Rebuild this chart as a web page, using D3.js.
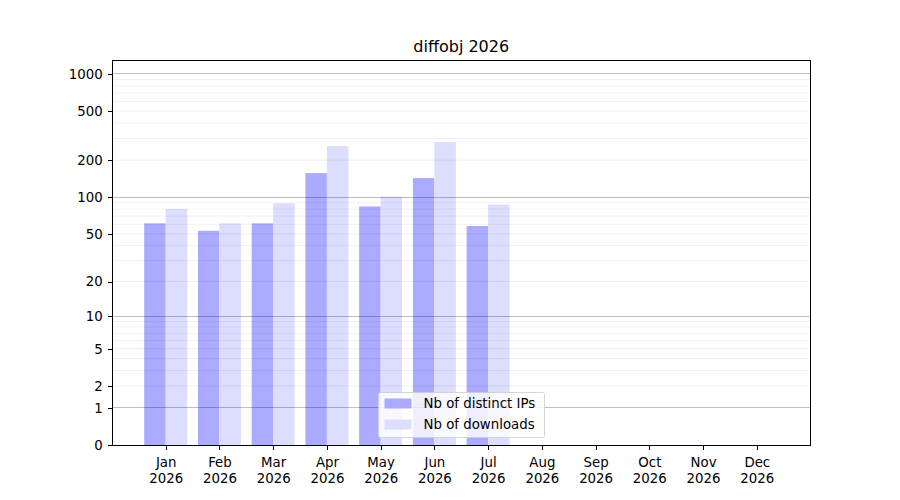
<!DOCTYPE html>
<html>
<head>
<meta charset="utf-8">
<script src="https://cdn.jsdelivr.net/npm/d3@7"></script>
<style>
  body { margin: 0; background: #fff; }
  svg text { font-family: "DejaVu Sans", sans-serif; fill: #000; }
</style>
</head>
<body>
<svg id="chart" width="900" height="500"></svg>
<script>
var months = ["Jan", "Feb", "Mar", "Apr", "May", "Jun", "Jul", "Aug", "Sep", "Oct", "Nov", "Dec"];
var year = "2026";
var distinctIPs = [61, 53, 61, 157, 84, 143, 58, null, null, null, null, null];
var downloads = [80, 61, 89, 261, 101, 281, 87, null, null, null, null, null];
var yTicks = [0, 1, 2, 5, 10, 20, 50, 100, 200, 500, 1000];
var majorGrid = [1, 10, 100, 1000];
var minorGrid = [2, 3, 4, 5, 6, 7, 8, 9, 20, 30, 40, 50, 60, 70, 80, 90, 200, 300, 400, 500, 600, 700, 800, 900];

// plot box (matplotlib default subplot params for a 9x5 figure)
var plotLeft = 112.5, plotRight = 810, plotTop = 60, plotBottom = 445;

var svg = d3.select('#chart');

var x = d3.scaleLinear().domain([-0.99, 11.99]).range([plotLeft, plotRight]);
var y = d3.scaleSymlog().constant(1).domain([0, 1298]).range([plotBottom, plotTop]);
var barW = x(0.4) - x(0);

var bars = svg.append('g');

bars.selectAll('.ip')
    .data(distinctIPs.map((v, i) => ({ v: v, i: i })).filter(d => d.v != null))
    .enter()
    .append('rect')
    .attr('class', 'ip')
    .attr('x', d => x(d.i - 0.4))
    .attr('width', barW)
    .attr('y', d => y(d.v))
    .attr('height', d => plotBottom - y(d.v))
    .style('fill', '#aaaaff');

bars.selectAll('.dl')
    .data(downloads.map((v, i) => ({ v: v, i: i })).filter(d => d.v != null))
    .enter()
    .append('rect')
    .attr('class', 'dl')
    .attr('x', d => x(d.i))
    .attr('width', barW)
    .attr('y', d => y(d.v))
    .attr('height', d => plotBottom - y(d.v))
    .style('fill', '#ddddff');

// grid lines sit above the bars, like matplotlib does
svg.append('g').selectAll('line')
    .data(minorGrid)
    .enter()
    .append('line')
    .attr('x1', plotLeft).attr('x2', plotRight)
    .attr('y1', d => y(d)).attr('y2', d => y(d))
    .style('stroke', '#000')
    .style('stroke-opacity', 0.075)
    .style('stroke-width', 0.8);

svg.append('g').selectAll('line')
    .data(majorGrid)
    .enter()
    .append('line')
    .attr('x1', plotLeft).attr('x2', plotRight)
    .attr('y1', d => y(d)).attr('y2', d => y(d))
    .style('stroke', '#000')
    .style('stroke-opacity', 0.25)
    .style('stroke-width', 1)
    .attr('shape-rendering', 'crispEdges');

// y axis
var yAxis = d3.axisLeft(y)
    .tickValues(yTicks)
    .tickFormat(d3.format('d'))
    .tickSize(4.9)
    .tickPadding(4.9);

svg.append('g')
    .attr('transform', 'translate(' + plotLeft + ',0)')
    .call(yAxis)
    .call(g => g.select('.domain').remove())
    .call(g => g.selectAll('text').attr('font-size', '13.33px').style('font-family', '"DejaVu Sans", sans-serif'))
    .call(g => g.selectAll('line').style('stroke-width', 1).attr('shape-rendering', 'crispEdges'));

// x axis
var xAxis = d3.axisBottom(x)
    .tickValues(d3.range(months.length))
    .tickFormat('')
    .tickSize(4.9);

var xg = svg.append('g')
    .attr('transform', 'translate(0,' + plotBottom + ')')
    .call(xAxis)
    .call(g => g.select('.domain').remove())
    .call(g => g.selectAll('line').style('stroke-width', 1).attr('shape-rendering', 'crispEdges'));

var xLabels = xg.selectAll('.tick')
    .append('text')
    .attr('text-anchor', 'middle')
    .attr('font-size', '13.33px')
    .style('font-family', '"DejaVu Sans", sans-serif');

xLabels.append('tspan').attr('x', 0).attr('y', 22).text(d => months[d]);
xLabels.append('tspan').attr('x', 0).attr('y', 38).text(year);

// frame
svg.append('rect')
    .attr('x', plotLeft)
    .attr('y', plotTop)
    .attr('width', plotRight - plotLeft)
    .attr('height', plotBottom - plotTop)
    .attr('shape-rendering', 'crispEdges')
    .style('fill', 'none')
    .style('stroke', '#000')
    .style('stroke-width', 1);

// title
svg.append('text')
    .attr('text-anchor', 'middle')
    .attr('x', (plotLeft + plotRight) / 2)
    .attr('y', 52)
    .attr('font-size', '16px')
    .text('diffobj 2026');

// legend, lower center
var legendNames = ['Nb of distinct IPs', 'Nb of downloads'];
var legendColors = ['#aaaaff', '#ddddff'];

var legend = svg.append('g')
    .attr('transform', 'translate(378.5,392.5)');

legend.append('rect')
    .attr('width', 166)
    .attr('height', 45)
    .attr('rx', 2)
    .style('fill', '#fff')
    .style('fill-opacity', 0.8)
    .style('stroke', '#ccc')
    .style('stroke-width', 0.8);

var legendItems = legend.selectAll('.legend-item')
    .data(legendNames)
    .enter()
    .append('g')
    .attr('class', 'legend-item')
    .attr('transform', (d, i) => 'translate(6,' + (6 + i * 21) + ')');

legendItems.append('rect')
    .attr('width', 27)
    .attr('height', 10)
    .style('fill', (d, i) => legendColors[i]);

legendItems.append('text')
    .attr('x', 39)
    .attr('y', 5)
    .attr('dy', '0.35em')
    .attr('font-size', '13.33px')
    .text(d => d);
</script>
</body>
</html>
